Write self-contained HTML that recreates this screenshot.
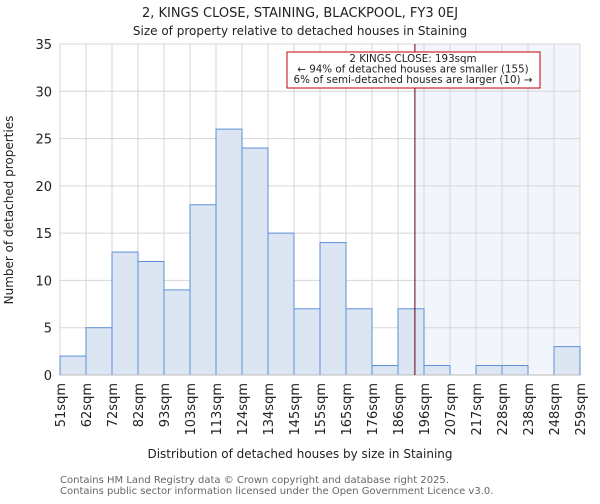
<!DOCTYPE html>
<html><head><meta charset="utf-8"><style>
body{margin:0;background:#fff;font-family:"DejaVu Sans","Liberation Sans",sans-serif}
</style></head><body>
<svg id="c" width="600" height="500" xmlns="http://www.w3.org/2000/svg" font-family="DejaVu Sans, Liberation Sans, sans-serif">
<text x="300" y="17" text-anchor="middle" font-size="13" fill="#222">2, KINGS CLOSE, STAINING, BLACKPOOL, FY3 0EJ</text>
<text x="300" y="35" text-anchor="middle" font-size="12" fill="#222">Size of property relative to detached houses in Staining</text>
<g id="plot"></g>
<text x="300" y="458" text-anchor="middle" font-size="12" fill="#222">Distribution of detached houses by size in Staining</text>
<text transform="translate(13,210) rotate(-90)" text-anchor="middle" font-size="12" fill="#222">Number of detached properties</text>
<text x="60" y="483" font-size="10" fill="#666">Contains HM Land Registry data © Crown copyright and database right 2025.</text>
<text x="60" y="494" font-size="10" fill="#666">Contains public sector information licensed under the Open Government Licence v3.0.</text>
</svg>
<script>
const labels=["51sqm","62sqm","72sqm","82sqm","93sqm","103sqm","113sqm","124sqm","134sqm","145sqm","155sqm","165sqm","176sqm","186sqm","196sqm","207sqm","217sqm","228sqm","238sqm","248sqm","259sqm"];
const counts=[2,5,13,12,9,18,26,24,15,7,14,7,1,7,1,0,1,1,0,3];
const yTicks=[0,5,10,15,20,25,30,35];
const markerBin=13.65;
const NS="http://www.w3.org/2000/svg";
const L=60,R=580,T=44,B=375,YMAX=35;
const xs=i=>L+i*(R-L)/counts.length;
const ys=v=>B-v*(B-T)/YMAX;
const g=document.getElementById('plot');
function mk(t,a){const e=document.createElementNS(NS,t);for(const k in a)e.setAttribute(k,a[k]);g.appendChild(e);return e;}
let e=mk('rect',{x:xs(markerBin),y:T,width:R-xs(markerBin),height:B-T,fill:'#f3f5fc'});


for(let i=0;i<=counts.length;i++){e=mk('line',{x1:xs(i),x2:xs(i),y1:T,y2:B,stroke:'#d6d6d6','stroke-width':1});

}
yTicks.forEach(v=>{e=mk('line',{x1:L,x2:R,y1:ys(v),y2:ys(v),stroke:'#d6d6d6'});


const t=mk('text',{x:L-8,y:ys(v)+5,'text-anchor':'end','font-size':13,fill:'#222'});t.textContent=v;

});
counts.forEach((c,i)=>{if(c<=0)return;e=mk('rect',{x:xs(i),y:ys(c),width:xs(i+1)-xs(i),height:B-ys(c),fill:'#dce6f3',stroke:'#5b8fd9','stroke-width':1});

});
labels.forEach((l,i)=>{const t=mk('text',{transform:`translate(${xs(i)+5},383) rotate(-90)`,'text-anchor':'end','font-size':13,fill:'#222'});t.textContent=l;

});
e=mk('line',{x1:L,x2:R,y1:B,y2:B,stroke:'#bbb'});


e=mk('line',{x1:xs(markerBin),x2:xs(markerBin),y1:T,y2:B,stroke:'#600010','stroke-width':1});


e=mk('rect',{x:287,y:52,width:253,height:36,fill:'#fff',stroke:'#c00000','stroke-width':1});


["2 KINGS CLOSE: 193sqm","← 94% of detached houses are smaller (155)","6% of semi-detached houses are larger (10) →"].forEach((s,i)=>{const t=mk('text',{x:413,y:62+i*10.5,'text-anchor':'middle','font-size':10.3,fill:'#222'});t.textContent=s;

});
</script>
</body></html>
